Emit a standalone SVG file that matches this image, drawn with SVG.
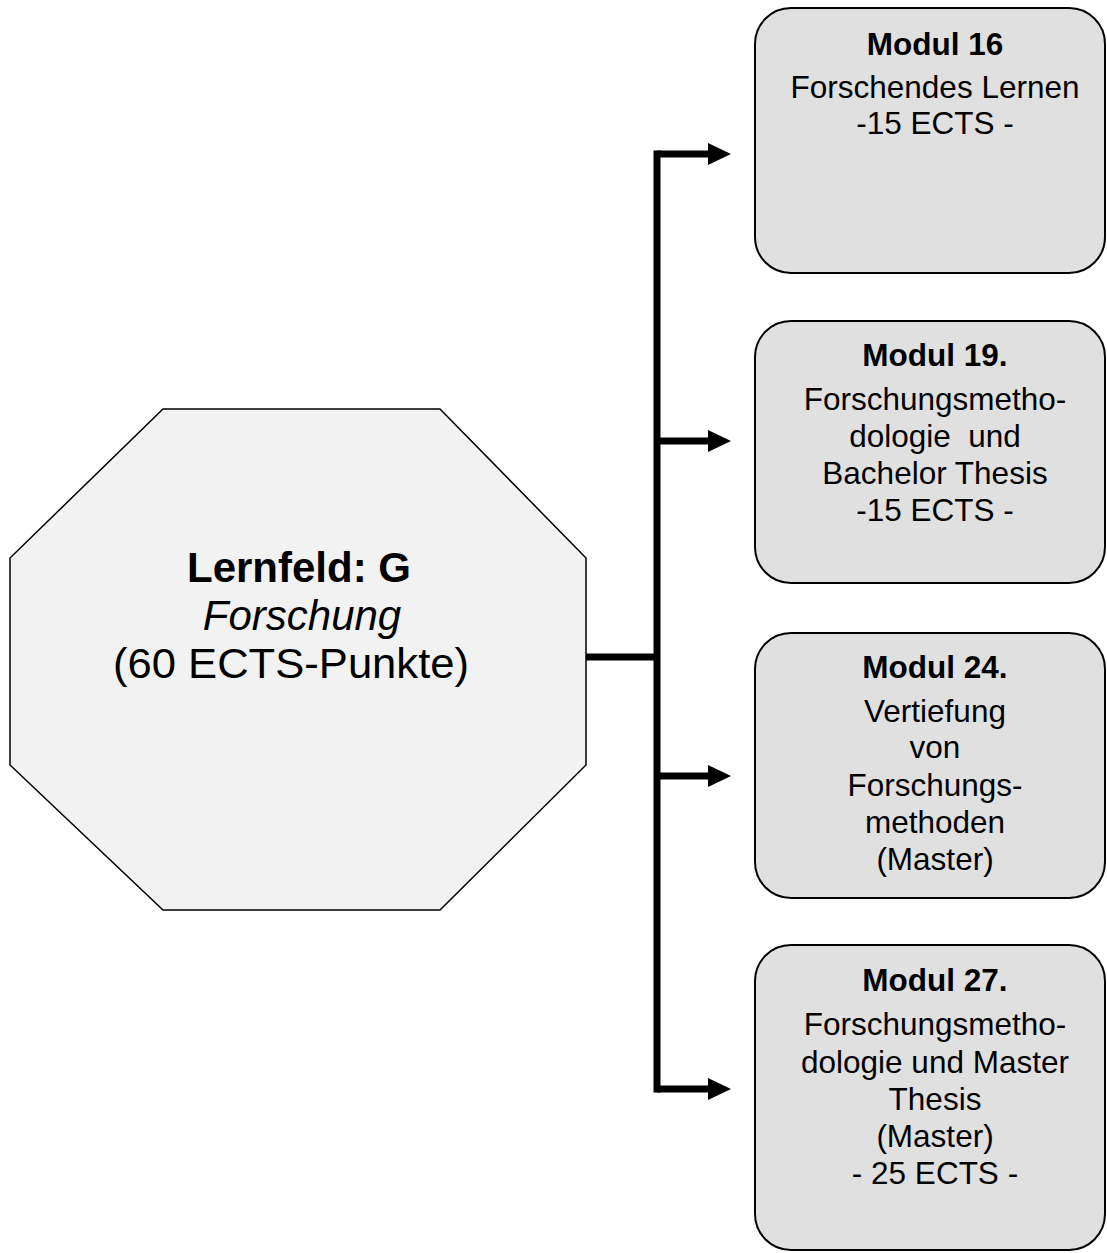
<svg xmlns="http://www.w3.org/2000/svg" width="1107" height="1253" viewBox="0 0 1107 1253">
<style>
.box{fill:#e0e0e0;stroke:#000;stroke-width:2}
.oct{fill:#f2f2f2;stroke:#000;stroke-width:1.5}
.t{font-family:"Liberation Sans",Arial,sans-serif;font-size:31.5px;fill:#000;text-anchor:middle}
.b{font-weight:bold}
.o{font-family:"Liberation Sans",Arial,sans-serif;font-size:42px;fill:#000;text-anchor:middle}
.ln{stroke:#000;stroke-width:7;fill:none}
.ah{fill:#000}
</style>
<rect width="1107" height="1253" fill="#fff"/>
<g id="lernfeld">
<polygon class="oct" points="163,409 440,409 586,558 586,765 440,910 163,910 10,765 10,558"/>
<text class="o b" x="299" y="582">Lernfeld: G</text>
<text class="o" x="302" y="630" font-style="italic">Forschung</text>
<text class="o" x="291" y="678" textLength="356" lengthAdjust="spacingAndGlyphs">(60 ECTS-Punkte)</text>
</g>
<g id="connectors">
<line class="ln" x1="586" y1="657" x2="660" y2="657"/>
<line class="ln" x1="657" y1="150.5" x2="657" y2="1092.5"/>
<line class="ln" x1="657" y1="154" x2="710" y2="154"/>
<line class="ln" x1="657" y1="441" x2="710" y2="441"/>
<line class="ln" x1="657" y1="776" x2="710" y2="776"/>
<line class="ln" x1="657" y1="1089" x2="710" y2="1089"/>
<polygon class="ah" points="708,143 731,154 708,165"/>
<polygon class="ah" points="708,430 731,441 708,452"/>
<polygon class="ah" points="708,765 731,776 708,787"/>
<polygon class="ah" points="708,1078 731,1089 708,1100"/>
</g>
<g id="modul16">
<rect class="box" x="755" y="8" width="350" height="265" rx="36" ry="36"/>
<text class="t b" x="935" y="55">Modul 16</text>
<text class="t" x="935" y="98">Forschendes Lernen</text>
<text class="t" x="935" y="134">-15 ECTS -</text>
</g>
<g id="modul19">
<rect class="box" x="755" y="321" width="350" height="262" rx="36" ry="36"/>
<text class="t b" x="935" y="366">Modul 19.</text>
<text class="t" x="935" y="410">Forschungsmetho-</text>
<text class="t" x="935" y="447" xml:space="preserve">dologie  und</text>
<text class="t" x="935" y="484">Bachelor Thesis</text>
<text class="t" x="935" y="521">-15 ECTS -</text>
</g>
<g id="modul24">
<rect class="box" x="755" y="633" width="350" height="265" rx="36" ry="36"/>
<text class="t b" x="935" y="678">Modul 24.</text>
<text class="t" x="935" y="722">Vertiefung</text>
<text class="t" x="935" y="758">von</text>
<text class="t" x="935" y="796">Forschungs-</text>
<text class="t" x="935" y="833">methoden</text>
<text class="t" x="935" y="870">(Master)</text>
</g>
<g id="modul27">
<rect class="box" x="755" y="945" width="350" height="305" rx="36" ry="36"/>
<text class="t b" x="935" y="991">Modul 27.</text>
<text class="t" x="935" y="1035">Forschungsmetho-</text>
<text class="t" x="935" y="1073">dologie und Master</text>
<text class="t" x="935" y="1110">Thesis</text>
<text class="t" x="935" y="1147">(Master)</text>
<text class="t" x="935" y="1184">- 25 ECTS -</text>
</g>
</svg>
